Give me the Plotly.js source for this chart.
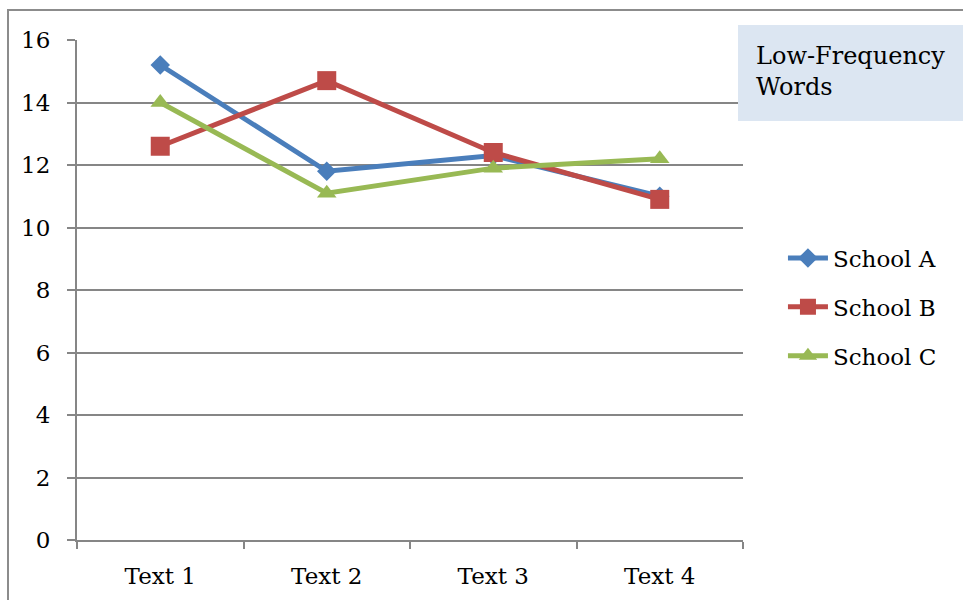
<!DOCTYPE html>
<html><head><meta charset="utf-8">
<script src="https://cdn.plot.ly/plotly-3.0.1.min.js"></script>
<style>html,body{margin:0;padding:0;background:#fff}#c{width:963px;height:600px}</style>
</head><body><div id="c"></div>
<script>
const categories = ["Text 1", "Text 2", "Text 3", "Text 4"];
const schoolA = [15.2, 11.8, 12.3, 11.0];
const schoolB = [12.6, 14.7, 12.4, 10.9];
const schoolC = [14.0, 11.1, 11.9, 12.2];
const seriesNames = ["School A", "School B", "School C"];
const yTicks = [0, 2, 4, 6, 8, 10, 12, 14, 16];

const font = "'DejaVu Serif', 'Liberation Serif', serif";
function tr(name, y, color, symbol, size, grp) {
  return {x: categories, y: y, name: name, type: "scatter", mode: "lines+markers", legendgroup: grp,
    line: {color: color, width: 5}, marker: {symbol: symbol, size: size, color: color}};
}
const data = [
  tr(seriesNames[0], schoolA, "#4a7ebb", "diamond", 15, "a"),
  tr(seriesNames[1], schoolB, "#be4b48", "square", 19, "b"),
  tr(seriesNames[2], schoolC, "#98b954", "triangle-up", 17, "c")
];
const layout = {
  width: 963, height: 600,
  margin: {l: 77, r: 220, t: 40, b: 60},
  paper_bgcolor: "#fff", plot_bgcolor: "#fff",
  font: {family: font, size: 23, color: "#000"},
  showlegend: true,
  legend: {x: 1.06, y: 0.607, xanchor: "left", yanchor: "top", font: {size: 23}, tracegroupgap: 16, itemwidth: 40},
  xaxis: {type: "category", range: [-0.5, 3.5], tickson: "boundaries", ticks: "outside", ticklen: 7, tickcolor: "#868686", tickwidth: 2,
    showline: true, linecolor: "#868686", linewidth: 2, showgrid: false, fixedrange: true, zeroline: false, ticklabelstandoff: 14},
  yaxis: {range: [0, 16], tickvals: yTicks, ticks: "outside", ticklen: 8, tickcolor: "#868686", tickwidth: 2,
    showline: true, linecolor: "#868686", linewidth: 2, gridcolor: "#868686", gridwidth: 2, zeroline: false, ticklabelstandoff: 12},
  shapes: [
    {type: "rect", xref: "paper", yref: "paper", x0: -0.1036, x1: 1.36, y0: -0.16, y1: 1.06,
      line: {color: "#8c8c8c", width: 2}, fillcolor: "rgba(0,0,0,0)", layer: "below"},
    {type: "rect", xref: "paper", yref: "paper", x0: 0.9925, x1: 1.36, y0: 0.838, y1: 1.03,
      line: {width: 0}, fillcolor: "#dce6f2", layer: "above"}
  ],
  annotations: [
    {xref: "paper", yref: "paper", x: 1.017, y: 1.0, xanchor: "left", yanchor: "top", align: "left",
      text: "Low-Frequency<br>Words", showarrow: false, font: {size: 24, family: font, color: "#000"}}
  ]
};
Plotly.newPlot("c", data, layout, {displayModeBar: false, staticPlot: true});
</script></body></html>
